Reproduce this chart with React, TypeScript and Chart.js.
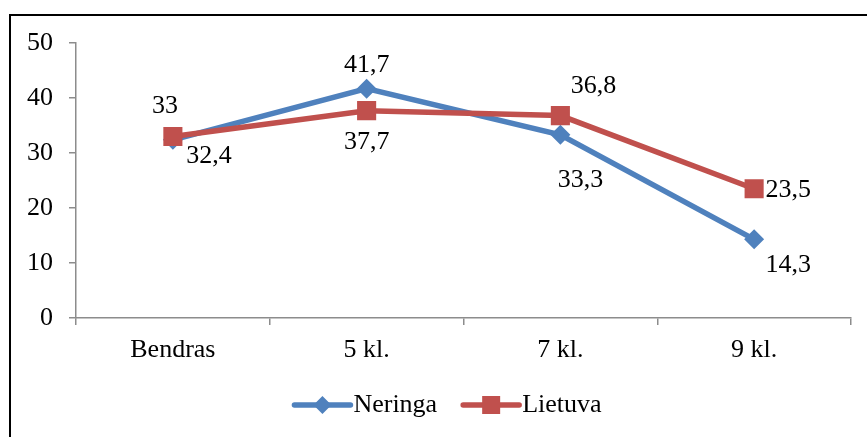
import React, { useEffect, useRef } from "react";
import { Chart, registerables } from "chart.js";

Chart.register(...registerables);

const categories = ["Bendras", "5 kl.", "7 kl.", "9 kl."];
const neringa = [32.4, 41.7, 33.3, 14.3];
const lietuva = [33, 37.7, 36.8, 23.5];
const yTicks = [0, 10, 20, 30, 40, 50];

// label offsets (dx, dy) from each point, in pixels
const neringaLabelOffsets = [[36, 16], [0, -23], [20, 45], [34, 26]];
const lietuvaLabelOffsets = [[-8, -30], [0, 32], [33, -29], [34, 1]];

const BLUE = "#4F81BD";
const RED = "#C0504D";
const AXIS = "#8C8C8C";
const FONT = "'Liberation Serif', 'Times New Roman', 'DejaVu Serif', serif";
const FS = 26;

const fmt = (v: number) => String(v).replace(".", ",");

const labelPlugin = {
  id: "valueLabels",
  afterDatasetsDraw(chart: any) {
    const ctx = chart.ctx;
    ctx.save();
    ctx.font = `${FS}px ${FONT}`;
    ctx.fillStyle = "#000";
    ctx.textAlign = "center";
    ctx.textBaseline = "middle";
    chart.data.datasets.forEach((ds: any, i: number) => {
      const meta = chart.getDatasetMeta(i);
      const offs = ds.label === "Neringa" ? neringaLabelOffsets : lietuvaLabelOffsets;
      meta.data.forEach((pt: any, j: number) => {
        const o = offs[j];
        ctx.fillText(fmt(ds.data[j]), pt.x + o[0], pt.y + o[1]);
      });
    });
    ctx.restore();
  },
};

const legendPlugin = {
  id: "customLegend",
  afterDraw(chart: any) {
    const ctx = chart.ctx;
    ctx.save();
    ctx.font = `${FS}px ${FONT}`;
    const items = [
      { label: "Neringa", color: BLUE, style: "diamond" },
      { label: "Lietuva", color: RED, style: "square" },
    ];
    const lineW = 56;
    const textGap = 3;
    const itemGap = 26;
    const widths = items.map((it) => lineW + textGap + ctx.measureText(it.label).width);
    const total = widths.reduce((a, b) => a + b, 0) + itemGap * (items.length - 1);
    let x = 448 - total / 2;
    const y = 405;
    items.forEach((it, k) => {
      ctx.strokeStyle = it.color;
      ctx.lineWidth = 5.5;
      ctx.lineCap = "round";
      ctx.beginPath();
      ctx.moveTo(x, y);
      ctx.lineTo(x + lineW, y);
      ctx.stroke();
      const cx = x + lineW / 2;
      ctx.fillStyle = it.color;
      ctx.beginPath();
      if (it.style === "diamond") {
        const r = 9;
        ctx.moveTo(cx - r, y);
        ctx.lineTo(cx, y - r);
        ctx.lineTo(cx + r, y);
        ctx.lineTo(cx, y + r);
        ctx.closePath();
      } else {
        const s = 9;
        ctx.rect(cx - s, y - s, 2 * s, 2 * s);
      }
      ctx.fill();
      ctx.fillStyle = "#000";
      ctx.textAlign = "left";
      ctx.textBaseline = "middle";
      ctx.fillText(it.label, x + lineW + textGap, y);
      x += widths[k] + itemGap;
    });
    ctx.restore();
  },
};

export default function App() {
  const ref = useRef<HTMLCanvasElement>(null);
  useEffect(() => {
    if (!ref.current) return;
    const chart = new Chart(ref.current, {
      type: "line",
      data: {
        labels: categories,
        datasets: [
          {
            label: "Lietuva",
            data: lietuva,
            borderColor: RED,
            backgroundColor: RED,
            borderWidth: 5.5,
            pointStyle: "rect",
            pointRadius: 13.5,
            pointBorderWidth: 0,
            pointBackgroundColor: RED,
            tension: 0,
          },
          {
            label: "Neringa",
            data: neringa,
            borderColor: BLUE,
            backgroundColor: BLUE,
            borderWidth: 5.5,
            pointStyle: "rectRot",
            pointRadius: 10,
            pointBorderWidth: 0,
            pointBackgroundColor: BLUE,
            tension: 0,
          },
        ],
      },
      options: {
        responsive: false,
        maintainAspectRatio: false,
        animation: false,
        layout: { padding: { top: 43, right: 16, bottom: 0, left: 0 } },
        plugins: {
          legend: { display: false },
          tooltip: { enabled: false },
        },
        scales: {
          x: {
            type: "category",
            offset: true,
            grid: {
              display: true,
              offset: true,
              drawOnChartArea: false,
              drawTicks: true,
              tickLength: 7,
              color: AXIS,
              lineWidth: 1.5,
            },
            border: { display: true, color: AXIS, width: 1.5 },
            ticks: {
              color: "#000",
              font: { family: FONT, size: FS },
              padding: 10,
              maxRotation: 0,
            },
            afterFit: (s: any) => {
              s.height = 119;
            },
          },
          y: {
            min: 0,
            max: 50,
            afterBuildTicks: (s: any) => {
              s.ticks = yTicks.map((v) => ({ value: v }));
            },
            grid: {
              display: true,
              drawOnChartArea: false,
              drawTicks: true,
              tickLength: 7,
              color: AXIS,
              lineWidth: 1.5,
            },
            border: { display: true, color: AXIS, width: 1.5 },
            ticks: {
              color: "#000",
              font: { family: FONT, size: FS },
              padding: 16,
            },
            afterFit: (s: any) => {
              s.width = 76;
            },
          },
        },
      },
      plugins: [labelPlugin, legendPlugin],
    });
    return () => chart.destroy();
  }, []);

  return (
    <div
      style={{
        position: "fixed",
        left: 0,
        top: 0,
        width: 867,
        height: 437,
        overflow: "hidden",
        background: "#fff",
      }}
    >
      <div
        style={{
          position: "absolute",
          left: 9,
          top: 14,
          width: 2000,
          height: 2000,
          border: "2px solid #000",
          boxSizing: "border-box",
        }}
      />
      <canvas
        ref={ref}
        width={867}
        height={437}
        style={{ position: "absolute", left: 0, top: 0, width: 867, height: 437 }}
      />
    </div>
  );
}
